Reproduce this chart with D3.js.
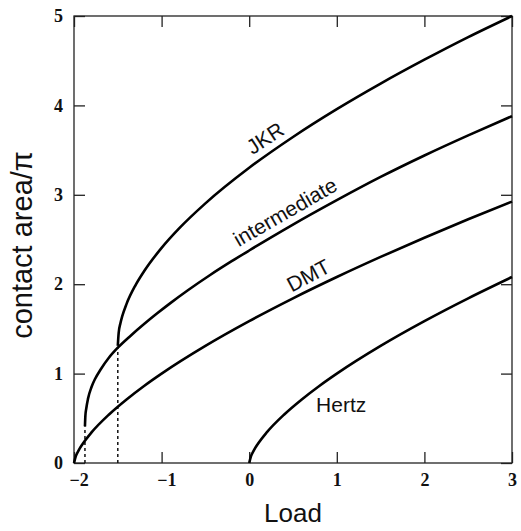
<!DOCTYPE html>
<html>
<head>
<meta charset="utf-8">
<script src="https://cdn.jsdelivr.net/npm/d3@7"></script>
<style>
  body { margin: 0; background: #fff; }
</style>
</head>
<body>
<div id="chart"></div>
<script>
// values (load, contact area / pi)
var hertzLoad = [0, 0.02, 0.05, 0.1, 0.2, 0.4, 0.6, 0.8, 1, 1.5, 2, 2.5, 3]
var hertzArea = [0, 0.074, 0.136, 0.215, 0.342, 0.543, 0.711, 0.862, 1, 1.31, 1.587, 1.842, 2.08]

var dmtLoad = [-2, -1.98, -1.95, -1.9, -1.8, -1.6, -1.4, -1.2, -1, -0.5, 0, 0.5, 1, 1.5, 2, 2.5, 3]
var dmtArea = [0, 0.074, 0.136, 0.215, 0.342, 0.543, 0.711, 0.862, 1, 1.31, 1.587, 1.842, 2.08, 2.305, 2.52, 2.726, 2.924]

var jkrLoad = [-1.5, -1.49, -1.47, -1.45, -1.4, -1.3, -1.2, -1, -0.8, -0.5, 0, 0.5, 1, 1.5, 2, 2.5, 3]
var jkrArea = [1.31, 1.455, 1.563, 1.639, 1.78, 1.985, 2.145, 2.406, 2.624, 2.904, 3.302, 3.647, 3.958, 4.244, 4.511, 4.764, 5.0]

var midLoad = [-1.875, -1.87, -1.86, -1.84, -1.8, -1.76, -1.7, -1.6, -1.5, -1.35, -1.2, -1.05, -0.9, -0.7, -0.45, -0.2, 0, 0.47, 1, 1.5, 2, 2.5, 3]
var midArea = [0.41, 0.53, 0.61, 0.72, 0.85, 0.94, 1.04, 1.18, 1.29, 1.427, 1.554, 1.674, 1.788, 1.932, 2.1, 2.257, 2.377, 2.65, 2.94, 3.2, 3.44, 3.665, 3.88]

// dashed markers: pull-off loads
var dropLoad = [-1.875, -1.5]
var dropArea = [0.41, 1.29]

var xTicks = [-2, -1, 0, 1, 2, 3]
var yTicks = [0, 1, 2, 3, 4, 5]

// curve names and where their labels sit (load, area, angle)
var names = ["JKR", "intermediate", "DMT", "Hertz"]
var labelLoad = [0.18, 0.41, 0.675, 1.05]
var labelArea = [3.635, 2.81, 2.1, 0.65]
var labelAngle = [-33, -30, -28, 0]

var width = 521, height = 531
var margin = {top: 16, right: 9, bottom: 68, left: 74}

var svg = d3.select("#chart").append("svg")
  .attr("width", width)
  .attr("height", height)

var x = d3.scaleLinear().domain([-2, 3]).range([margin.left, width - margin.right])
var y = d3.scaleLinear().domain([0, 5]).range([height - margin.bottom, margin.top])

var fmt = function(d) { return d3.format("")(d) }

// axes with inward ticks on all sides
var tickFont = "'Liberation Serif', 'Times New Roman', serif"

var bottom = svg.append("g")
  .attr("transform", "translate(0," + y(0) + ")")
  .call(d3.axisBottom(x).tickValues(xTicks).tickSizeInner(-11).tickSizeOuter(0).tickPadding(10).tickFormat(fmt))
bottom.selectAll("text").attr("dx", function(d) { return d < 0 ? "0.26em" : 0 })

svg.append("g")
  .attr("transform", "translate(" + x(-2) + ",0)")
  .call(d3.axisLeft(y).tickValues(yTicks).tickSizeInner(-11).tickSizeOuter(0).tickPadding(11).tickFormat(fmt))

svg.append("g")
  .attr("transform", "translate(0," + y(5) + ")")
  .call(d3.axisTop(x).tickValues(xTicks).tickSizeInner(-11).tickSizeOuter(0).tickFormat(""))

svg.append("g")
  .attr("transform", "translate(" + x(3) + ",0)")
  .call(d3.axisRight(y).tickValues(yTicks).tickSizeInner(-11).tickSizeOuter(0).tickFormat(""))

svg.selectAll(".domain").remove()
svg.selectAll(".tick line").attr("stroke", "#222").attr("stroke-width", 1.3)
svg.selectAll(".tick text")
  .style("font-family", tickFont)
  .style("font-weight", "bold")
  .style("font-size", "18px")
  .attr("fill", "#111")

// frame
svg.append("rect")
  .attr("x", x(-2)).attr("y", y(5))
  .attr("width", x(3) - x(-2)).attr("height", y(0) - y(5))
  .attr("fill", "none").attr("stroke", "#222").attr("stroke-width", 1.3)

// dashed drop lines
svg.selectAll(".drop")
  .data(dropLoad)
  .enter().append("line")
  .attr("class", "drop")
  .attr("x1", function(d) { return x(d) }).attr("x2", function(d) { return x(d) })
  .attr("y1", y(0))
  .attr("y2", function(d, i) { return y(dropArea[i]) })
  .attr("stroke", "#111").attr("stroke-width", 1.5)
  .attr("stroke-dasharray", "3,3")

// curves
var line = d3.line()
  .x(function(d) { return x(d[0]) })
  .y(function(d) { return y(d[1]) })
  .curve(d3.curveMonotoneX)

var series = [
  d3.zip(jkrLoad, jkrArea),
  d3.zip(midLoad, midArea),
  d3.zip(dmtLoad, dmtArea),
  d3.zip(hertzLoad, hertzArea)
]

svg.selectAll(".curve")
  .data(series)
  .enter().append("path")
  .attr("class", "curve")
  .attr("d", line)
  .attr("fill", "none")
  .attr("stroke", "#000")
  .attr("stroke-width", 2.6)

// curve labels
svg.selectAll(".name")
  .data(names)
  .enter().append("text")
  .attr("class", "name")
  .attr("transform", function(d, i) {
    return "translate(" + x(labelLoad[i]) + "," + y(labelArea[i]) + ") rotate(" + labelAngle[i] + ")"
  })
  .attr("text-anchor", "middle")
  .attr("dominant-baseline", "central")
  .style("font-family", "'Liberation Sans', Arial, sans-serif")
  .style("font-size", "21px")
  .attr("fill", "#111")
  .text(function(d) { return d })

// axis titles
svg.append("text")
  .attr("x", x(0.5)).attr("y", 522)
  .attr("text-anchor", "middle")
  .style("font-family", "'Liberation Sans', Arial, sans-serif")
  .style("font-size", "26px")
  .attr("fill", "#111")
  .text("Load")

svg.append("text")
  .attr("transform", "translate(32," + 245 + ") rotate(-90)")
  .attr("text-anchor", "middle")
  .style("font-family", "'Liberation Sans', Arial, sans-serif")
  .style("font-size", "29px")
  .attr("fill", "#111")
  .text("contact area/π")
</script>
</body>
</html>
